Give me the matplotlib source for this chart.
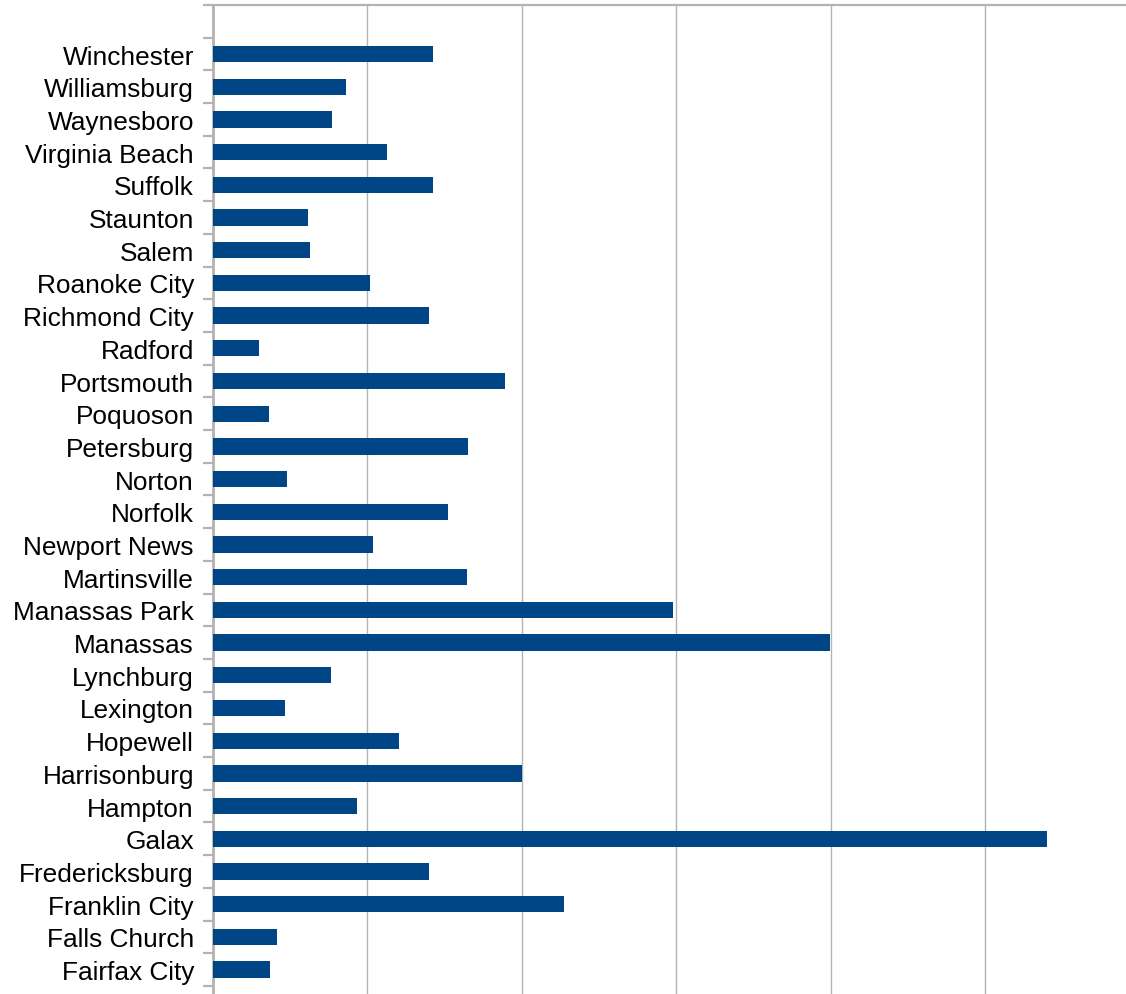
import matplotlib
matplotlib.use("Agg")
import matplotlib.pyplot as plt
import numpy as np

# cities listed bottom to top (grid units)
cities = ["Emporia", "Fairfax City", "Falls Church", "Franklin City", "Fredericksburg",
          "Galax", "Hampton", "Harrisonburg", "Hopewell", "Lexington", "Lynchburg",
          "Manassas", "Manassas Park", "Martinsville", "Newport News", "Norfolk",
          "Norton", "Petersburg", "Poquoson", "Portsmouth", "Radford", "Richmond City",
          "Roanoke City", "Salem", "Staunton", "Suffolk", "Virginia Beach",
          "Waynesboro", "Williamsburg", "Winchester"]
values = [0.6, 0.371, 0.416, 2.274, 1.400,
          5.400, 0.934, 2.002, 1.206, 0.467, 0.766,
          3.996, 2.978, 1.646, 1.036, 1.523,
          0.481, 1.652, 0.364, 1.892, 0.300, 1.400,
          1.018, 0.630, 0.617, 1.426, 1.128,
          0.772, 0.863, 1.426]

W, H = 1126, 995
fig = plt.figure(figsize=(W / 100, H / 100), dpi=100)

# plot area runs past the right and bottom edges of the picture
x0, x_right = 212.7, 1140.0
y_top, y_bot = 6.0, 1019.6
unit = 154.5
ax = fig.add_axes([x0 / W, 1 - y_bot / H, (x_right - x0) / W, (y_bot - y_top) / H])

grey = "#b3b3b3"
pos = np.arange(len(cities))
ax.barh(pos, values, height=0.5, color="#004586", zorder=3)

ax.set_xlim(0, (x_right - x0) / unit)
ax.set_ylim(-0.5, len(cities) + 0.5)

ax.set_xticks(np.arange(0, 7))
ax.xaxis.grid(True, color=grey, linewidth=1.0)
ax.tick_params(axis="x", bottom=False, labelbottom=False)

ax.set_yticks(pos)
ax.set_yticklabels(cities, fontsize=18.9, family="Liberation Sans", color="black")
ax.set_yticks(np.arange(-0.5, len(cities) + 1, 1.0), minor=True)
ax.tick_params(axis="y", which="major", length=0, pad=13.5)
ax.tick_params(axis="y", which="minor", length=7.2, width=1.6, color=grey, left=True)

for s in ["right", "bottom"]:
    ax.spines[s].set_visible(False)
ax.spines["left"].set_color(grey)
ax.spines["left"].set_linewidth(2.0)
ax.spines["top"].set_color(grey)
ax.spines["top"].set_linewidth(1.6)

fig.savefig("out.png", dpi=100)
